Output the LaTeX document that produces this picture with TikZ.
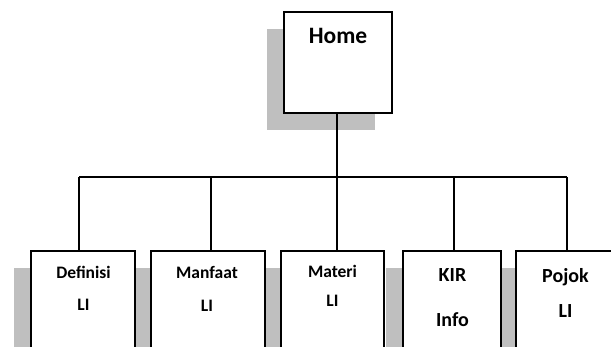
\documentclass[tikz,border=0pt]{standalone}
\usepackage{fontspec}
\setmainfont{Carlito}
\usetikzlibrary{shadows,positioning}

\begin{document}
\begin{tikzpicture}[x=1pt,y=-1pt,line width=1.3pt]
\tikzstyle{menu}=[draw=black,line width=1.8pt,fill=white,rectangle,inner sep=0pt,
  drop shadow={shadow xshift=-17pt,shadow yshift=-17pt,fill=black!25,opacity=1}]
\tikzstyle{lbl}=[anchor=base,inner sep=0pt,font=\bfseries\fontsize{17.5}{19}\selectfont]
\tikzstyle{lblbig}=[lbl,font=\bfseries\fontsize{20}{22}\selectfont]
\useasboundingbox (0,0) rectangle (611,347);
\clip (0,0) rectangle (611,347);
% top box
\node[menu,minimum width=108pt,minimum height=101pt] (home) at (338,62.5) {};
\node[lbl,font=\bfseries\fontsize{23.5}{26}\selectfont] (homeTxt) at (338,44) {Home};
% menu boxes, right to left so the shadows stay behind
\node[menu,minimum width=102pt,minimum height=120pt] (poj) at (567,311) {};
\node[menu,minimum width=98pt,minimum height=120pt] (kir) at (452,311) {};
\node[menu,minimum width=103pt,minimum height=120pt] (mat) at (332.5,311) {};
\node[menu,minimum width=114pt,minimum height=120pt] (man) at (208,311) {};
\node[menu,minimum width=104pt,minimum height=120pt] (def) at (83,311) {};
\node[lbl] (defA) at (83.5,279) {Definisi};
\node[lbl] (defB) at (83.5,311) {LI};
\node[lbl] (manA) at (207,279) {Manfaat};
\node[lbl] (manB) at (207,312) {LI};
\node[lbl] (matA) at (332.5,278) {Materi};
\node[lbl] (matB) at (332.5,307) {LI};
\node[lblbig] (kirA) at (452.5,282) {KIR};
\node[lblbig] (kirB) at (452.5,327) {Info};
\node[lblbig] (pojA) at (565.5,283) {Pojok};
\node[lblbig] (pojB) at (565.5,318) {LI};
% connectors
\coordinate (b1) at (79,177);
\coordinate (b2) at (211,177);
\coordinate (b3) at (337,177);
\coordinate (b4) at (454,177);
\coordinate (b5) at (567,177);
\draw (home.south -| b3) -- (b3);
\draw (b1) -- (b5);
\foreach \b/\n in {b1/def,b2/man,b3/mat,b4/kir,b5/poj}
  \draw (\b) -- (\b |- \n.north);
\end{tikzpicture}
\end{document}
